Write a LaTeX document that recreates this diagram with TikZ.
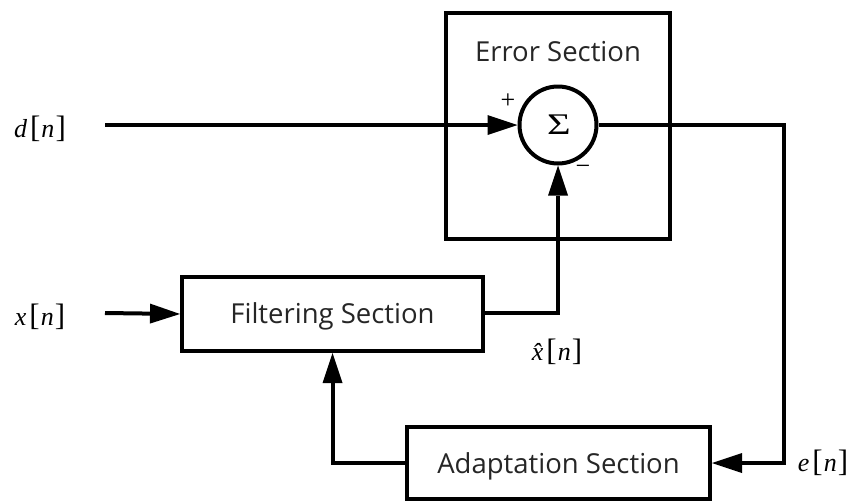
\documentclass[tikz,border=0pt]{standalone}
\usepackage{fontspec}
\setmainfont{Liberation Serif}
\newfontfamily\boxfont{Open Sans}
\usetikzlibrary{arrows.meta}

% signal label: italic letter with upright, slightly enlarged brackets
\newcommand\sigbr[1]{{\fontsize{31}{31}\selectfont\upshape #1}}
\newcommand\signal[1]{\fontsize{26}{26}\selectfont\itshape #1\kern3pt\sigbr{[}\kern1pt n\kern1pt\sigbr{]}}

\tikzset{
  blockbox/.style={draw, line width=4pt, rectangle, inner sep=0pt},
  blocktext/.style={font=\boxfont\fontsize{27.5}{30}\selectfont, text=black!85},
  sumnode/.style={draw, line width=4pt, circle, minimum size=77pt, inner sep=0pt},
  wire/.style={line width=4pt},
  arr/.style={wire, -{Triangle[length=30pt,width=20pt,line width=0pt]}},
  siglabel/.style={inner sep=0pt},
  signlabel/.style={inner sep=0pt, font=\fontsize{26}{26}\selectfont},
}

\begin{document}
\begin{tikzpicture}[x=1pt,y=-1pt]
\useasboundingbox (0,0) rectangle (857,501);

% blocks
\node[blockbox, minimum width=224pt, minimum height=226pt] (err) at (558,126) {};
\node[blocktext] (errtxt) at (558,52) {Error Section};
\node[blockbox, minimum width=301pt, minimum height=74pt] (filt) at (332.5,314) {};
\node[blocktext] (filttxt) at (332.5,316) {Filtering Section};
\node[blockbox, minimum width=303pt, minimum height=72pt] (adapt) at (558.5,463) {};
\node[blocktext] (adapttxt) at (558.5,466) {Adaptation Section};

% summing junction
\node[sumnode] (sum) at (558,125) {};
\node[inner sep=0pt] (sigma) at (559,125) {\scalebox{1.35}[1]{\fontsize{30}{30}\selectfont Σ}};
\node[signlabel] (plus) at (508,101) {+};
\node[signlabel] (minus) at (583,170) {\textminus};

% signal labels
\node[siglabel] (dlab) at (40,129) {\signal{d}};
\node[siglabel] (xlab) at (40,317) {\signal{x}};
\node[siglabel] (xhat) at (557,352) {\signal{\^{x}}};
\node[siglabel] (elab) at (823,463) {\signal{e}};

% free ends of the input wires and the corner of the error path
\coordinate (din) at (105,125);
\coordinate (xin) at (105,313);
\coordinate (corner) at (784,125);

% connectors
\draw[arr] (din) -- (sum.west);
\draw[arr] (xin) -- (filt.west);
\draw[arr] (filt.east |- 0,313) -| (sum.south);
\draw[arr] (sum.east) -- (corner) |- (adapt.east);
\draw[arr] (adapt.west) -| (filt.south);
\end{tikzpicture}
\end{document}
